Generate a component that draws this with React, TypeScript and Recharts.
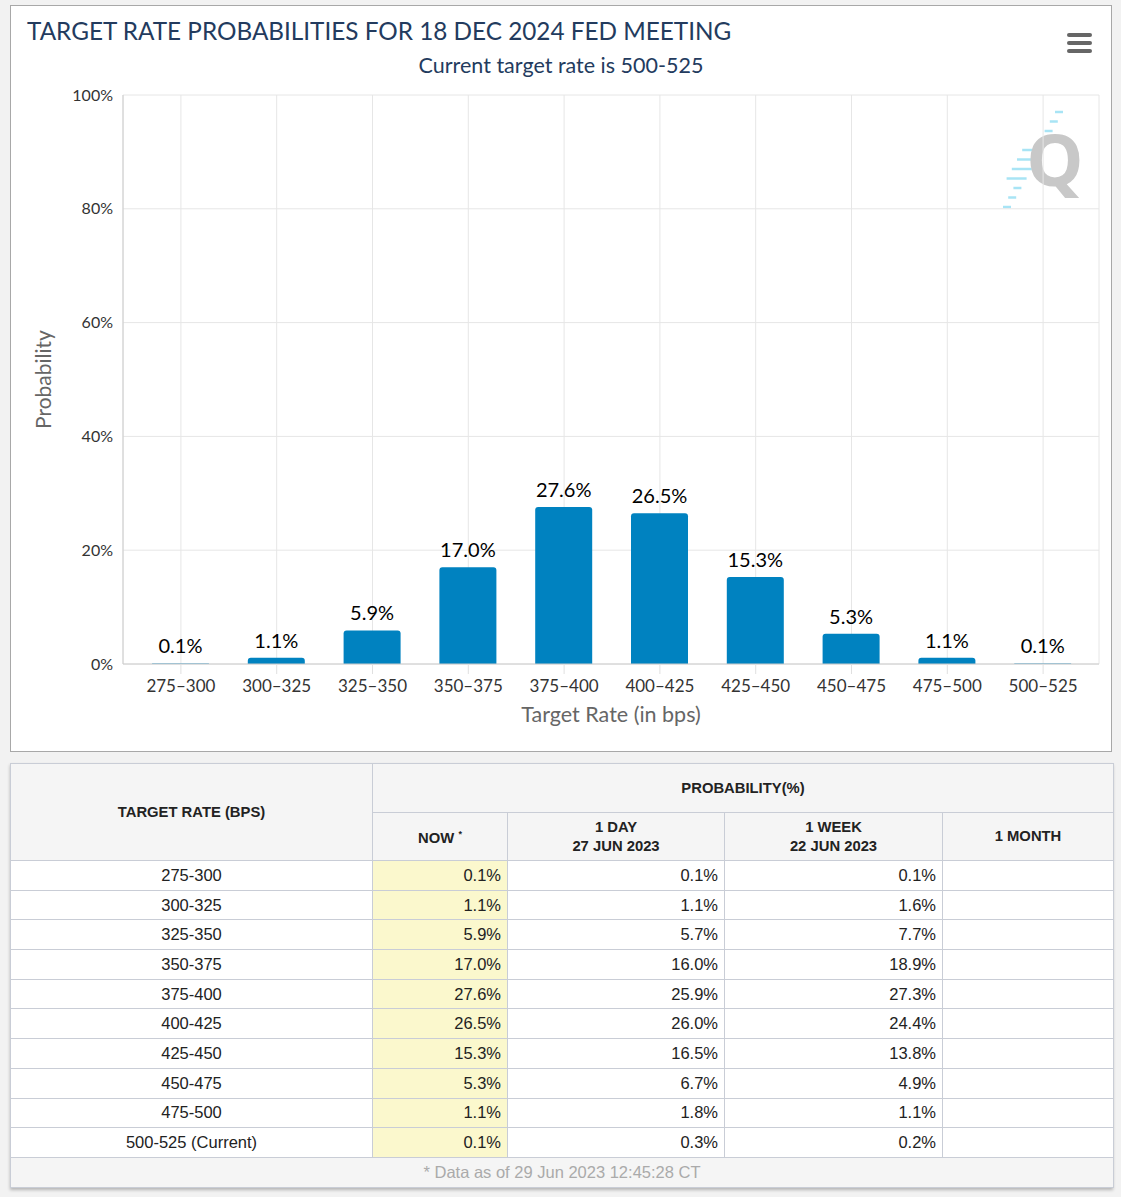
import { BarChart, Bar, XAxis, YAxis, CartesianGrid, LabelList } from 'recharts';

// target rate buckets (bps)
const categories = ['275-300', '300-325', '325-350', '350-375', '375-400', '400-425', '425-450', '450-475', '475-500', '500-525'];
const nowValues = [0.1, 1.1, 5.9, 17.0, 27.6, 26.5, 15.3, 5.3, 1.1, 0.1];
const oneDayValues = [0.1, 1.1, 5.7, 16.0, 25.9, 26.0, 16.5, 6.7, 1.8, 0.3];
const oneWeekValues = [0.1, 1.6, 7.7, 18.9, 27.3, 24.4, 13.8, 4.9, 1.1, 0.2];
const yTicks = [0, 20, 40, 60, 80, 100];

const chartData = categories.map((c, i) => ({ rate: c, now: nowValues[i] }));

const chartFont = 'Lato, "Open Sans", sans-serif';
const tableFont = '"Liberation Sans", Arial, sans-serif';
const border = '1px solid #c9cdd6';

const YLabel = (props: any) => {
  const vb = props.viewBox || {};
  const x = 31;
  const y = vb.y + vb.height / 2;
  return (
    <text x={x} y={y} transform={`rotate(-90, ${x}, ${y})`} textAnchor="middle" dominantBaseline="central"
      fill="#666" fontSize={21} fontFamily={chartFont}>Probability</text>
  );
};

const XLabel = (props: any) => {
  const vb = props.viewBox || {};
  return (
    <text x={vb.x + vb.width / 2} y={708} textAnchor="middle" dominantBaseline="central"
      fill="#666" fontSize={21.5} fontFamily={chartFont}>Target Rate (in bps)</text>
  );
};

const th: React.CSSProperties = { fontWeight: 'bold', fontSize: 14.8, lineHeight: '19px', color: '#222', background: '#f5f5f5', border, textAlign: 'center', padding: 0 };
const td: React.CSSProperties = { fontSize: 16.5, color: '#222', border, padding: '0 6px', height: 28.7, textAlign: 'right' };

export default function App() {
  return (
    <div style={{ position: 'absolute', left: 0, top: 0, width: 1121, height: 1197, background: '#f2f2f2', overflow: 'hidden' }}>
      {/* chart box */}
      <div style={{ position: 'absolute', left: 10, top: 5, width: 1100, height: 745, background: '#fff', border: '1px solid #a8a8a8' }}>
        <div style={{ position: 'absolute', left: 16, top: 10, fontFamily: chartFont, fontSize: 24.3, color: '#233b5e', whiteSpace: 'nowrap' }}>
          TARGET RATE PROBABILITIES FOR 18 DEC 2024 FED MEETING
        </div>
        <div style={{ position: 'absolute', left: 0, width: 1100, top: 46, textAlign: 'center', fontFamily: chartFont, fontSize: 21.5, color: '#233b5e' }}>
          Current target rate is 500-525
        </div>
        {/* menu icon */}
        <div style={{ position: 'absolute', left: 1056, top: 27 }}>
          {[0, 8, 16].map((t) => (
            <div key={t} style={{ position: 'absolute', top: t, width: 25, height: 4, borderRadius: 2, background: '#666' }} />
          ))}
        </div>
        {/* watermark */}
        <svg style={{ position: 'absolute', left: 990, top: 100 }} width={100} height={115}>
          {[0, 1, 2, 3, 4, 5, 6, 7, 8, 9, 10].map((k) => (
            <line key={k} x1={62 - k * 5.2} y1={6 + k * 9.5} x2={62 - k * 5.2 - (k > 3 && k < 8 ? 20 : 8)} y2={6 + k * 9.5} stroke="#a8e4f5" strokeWidth={2.5} />
          ))}
          <text x={54} y={80} textAnchor="middle" fontFamily="'Open Sans', sans-serif" fontWeight="bold" fontSize={72} fill="#c8c8c8">Q</text>
        </svg>
        <div style={{ position: 'absolute', left: 0, top: 0 }}>
          <BarChart width={1100} height={745} data={chartData} margin={{ top: 89, right: 12, bottom: 27, left: 0 }}>
            <CartesianGrid stroke="#e6e6e6" />
            <XAxis dataKey="rate" height={60} interval={0} stroke="#ccc" tickSize={10} padding={{ left: 10, right: 8 }}
              tickLine={{ stroke: '#e0e0e0' }} tickMargin={6}
              tick={{ fill: '#333', fontSize: 17, fontFamily: chartFont }}
              tickFormatter={(v: string) => v.replace('-', '–')}
              label={<XLabel />} />
            <YAxis width={112} domain={[0, 100]} ticks={yTicks} stroke="#ccc" tickLine={false} tickSize={0} tickMargin={10}
              tick={{ fill: '#333', fontSize: 16, fontFamily: chartFont }}
              tickFormatter={(v: number) => `${v}%`}
              label={<YLabel />} />
            <Bar dataKey="now" fill="#0082c0" barSize={57} radius={[3, 3, 0, 0]} isAnimationActive={false}>
              <LabelList dataKey="now" position="top" offset={10} formatter={(v: any) => `${Number(v).toFixed(1)}%`}
                style={{ fill: '#000', fontSize: 20, fontFamily: chartFont }} />
            </Bar>
          </BarChart>
        </div>
      </div>

      {/* probability table */}
      <div style={{ position: 'absolute', left: 10, top: 763, width: 1103, boxShadow: '0 2px 3px rgba(0,0,0,0.25)' }}>
        <table style={{ width: 1103, borderCollapse: 'collapse', fontFamily: tableFont, background: '#fff', tableLayout: 'fixed' }}>
          <colgroup>
            <col style={{ width: 362 }} />
            <col style={{ width: 135 }} />
            <col style={{ width: 217 }} />
            <col style={{ width: 218 }} />
            <col style={{ width: 171 }} />
          </colgroup>
          <thead>
            <tr style={{ height: 49 }}>
              <th rowSpan={2} style={th}>TARGET RATE (BPS)</th>
              <th colSpan={4} style={th}>PROBABILITY(%)</th>
            </tr>
            <tr style={{ height: 48 }}>
              <th style={th}>NOW <sup style={{ fontSize: 9 }}>*</sup></th>
              <th style={th}>1 DAY<br />27 JUN 2023</th>
              <th style={th}>1 WEEK<br />22 JUN 2023</th>
              <th style={th}>1 MONTH</th>
            </tr>
          </thead>
          <tbody>
            {categories.map((c, i) => (
              <tr key={c}>
                <td style={{ ...td, textAlign: 'center' }}>{i === categories.length - 1 ? `${c} (Current)` : c}</td>
                <td style={{ ...td, background: '#fbf8cd' }}>{nowValues[i].toFixed(1)}%</td>
                <td style={td}>{oneDayValues[i].toFixed(1)}%</td>
                <td style={td}>{oneWeekValues[i].toFixed(1)}%</td>
                <td style={td}></td>
              </tr>
            ))}
            <tr>
              <td colSpan={5} style={{ ...td, textAlign: 'center', background: '#f5f5f5', color: '#aaa' }}>
                * Data as of 29 Jun 2023 12:45:28 CT
              </td>
            </tr>
          </tbody>
        </table>
      </div>
    </div>
  );
}
